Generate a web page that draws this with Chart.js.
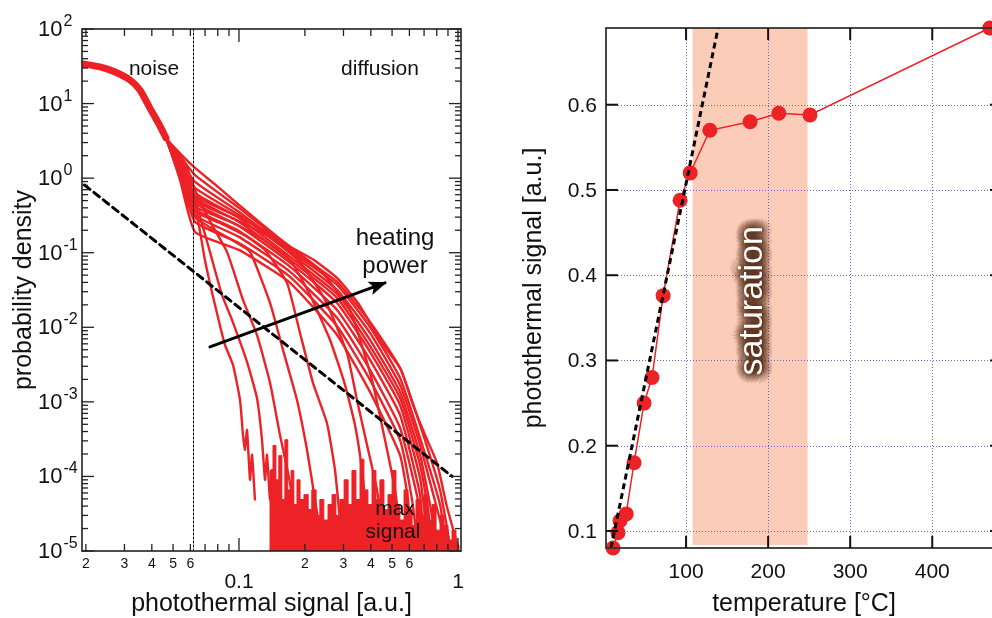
<!DOCTYPE html>
<html>
<head>
<meta charset="utf-8">
<script src="https://cdn.jsdelivr.net/npm/chart.js@4.4.1/dist/chart.umd.min.js"></script>
<style>
html, body { margin: 0; padding: 0; background: #fff; overflow: hidden; width: 992px; height: 618px; }
#left { position: absolute; left: 0; top: 0; }
#right { position: absolute; left: 496px; top: 0; }
</style>
</head>
<body>
<canvas id="left" width="496" height="618"></canvas>
<canvas id="right" width="520" height="618"></canvas>
<script>
var FONT = '"Liberation Sans", Arial, Helvetica, sans-serif';
var RED = '#ec2227';

// ---- left panel: probability density vs photothermal signal ----
var noiseHead = [[0.0194, 34], [0.0232, 31], [0.0272, 26.5], [0.0318, 20.7], [0.0353, 15.2], [0.0392, 8.7], [0.0436, 5.0], [0.0464, 3.46]];

var diff01 = [[0.0538, 2.15], [0.063, 1.37], [0.0802, 0.762], [0.1, 0.438], [0.1301, 0.229], [0.1692, 0.123], [0.22, 0.080], [0.2803, 0.0459], [0.3494, 0.0212], [0.4498, 6.2e-3], [0.5491, 2.7e-3], [0.6231, 9.1e-4], [0.7069, 3.6e-4], [0.8018, 1.52e-4], [0.8908, 3.9e-5], [1.0, 1.14e-5]];
var diff02 = [[0.0538, 1.95], [0.063, 1.10], [0.1, 0.399], [0.1692, 0.116], [0.2803, 0.0406], [0.3965, 0.0118], [0.5434, 2.86e-3], [0.6707, 4.9e-4], [0.8276, 6.6e-5], [0.9194, 1.2e-5]];
var diff03 = [[0.0538, 1.80], [0.063, 0.889], [0.1, 0.352], [0.1692, 0.109], [0.2803, 0.0370], [0.3965, 0.0101], [0.5434, 2.1e-3], [0.6707, 3.3e-4], [0.8276, 4.2e-5], [0.8815, 1.2e-5]];
var diff04 = [[0.0538, 1.65], [0.063, 0.739], [0.1, 0.321], [0.1692, 0.1026], [0.2803, 0.0317], [0.3965, 8.4e-3], [0.5434, 1.69e-3], [0.6707, 2.65e-4], [0.8276, 2.6e-5], [0.8908, 1.1e-5]];
var diff05 = [[0.0538, 1.55], [0.063, 0.634], [0.1, 0.293], [0.1692, 0.0906], [0.2803, 0.0280], [0.3965, 6.8e-3], [0.5434, 1.36e-3], [0.6707, 1.95e-4], [0.745, 4.2e-5], [0.8018, 1.2e-5]];
var diff06 = [[0.0538, 1.45], [0.063, 0.543], [0.1, 0.259], [0.1692, 0.0826], [0.2803, 0.0248], [0.3965, 5.6e-3], [0.5434, 1.13e-3], [0.6707, 1.43e-4], [0.7295, 3.6e-5], [0.769, 1.1e-5]];
var diff07 = [[0.0538, 1.35], [0.063, 0.466], [0.1, 0.229], [0.1692, 0.0753], [0.2803, 0.0212], [0.3965, 4.68e-3], [0.5434, 9.1e-4], [0.6707, 9.6e-5], [0.7069, 3.0e-5], [0.737, 1.1e-5]];
var diff08 = [[0.0538, 1.25], [0.063, 0.387], [0.1, 0.196], [0.1692, 0.0665], [0.2803, 0.0171], [0.3965, 3.66e-3], [0.5434, 6.7e-4], [0.6707, 5.7e-5], [0.70, 1.1e-5]];
var diff09 = [[0.0538, 1.15], [0.063, 0.321], [0.1, 0.163], [0.1692, 0.0570], [0.2803, 0.0134], [0.3965, 2.69e-3], [0.5434, 4.5e-4], [0.6707, 3.6e-5], [0.6922, 1.1e-5]];
var diff10 = [[0.0538, 1.05], [0.063, 0.259], [0.1, 0.135], [0.1692, 0.0489], [0.2803, 0.0104], [0.3965, 1.97e-3], [0.5434, 3.1e-4], [0.6166, 4.9e-5], [0.6568, 1.1e-5]];
var diff11 = [[0.0538, 0.95], [0.063, 0.190], [0.1, 0.109], [0.1692, 0.0406], [0.2803, 7.9e-3], [0.3965, 1.36e-3], [0.5434, 1.95e-4], [0.591, 4.9e-5], [0.6166, 1.1e-5]];

var steep1 = [[0.0538, 1.50], [0.063, 0.438], [0.0699, 0.080], [0.0777, 0.020], [0.0863, 5.8e-3], [0.0939, 3.13e-3], [0.1011, 1.06e-3], [0.1043, 3.6e-4], [0.1065, 2.28e-4], [0.1088, 4.2e-4], [0.1123, 9.0e-5], [0.1147, 1.95e-4], [0.1183, 4.9e-5]];
var steep2 = [[0.0549, 1.50], [0.063, 0.511], [0.0737, 0.1026], [0.0836, 0.0272], [0.0929, 0.0126], [0.1088, 3.44e-3], [0.1208, 1.13e-3], [0.1274, 3.1e-4], [0.1315, 9.0e-5], [0.1342, 1.95e-4], [0.1386, 4.9e-5], [0.1415, 1.22e-4], [0.146, 2.6e-5]];
var steep3 = [[0.0567, 1.60], [0.063, 0.695], [0.0753, 0.236], [0.0882, 0.1026], [0.1043, 0.0233], [0.1208, 7.9e-3], [0.1386, 1.80e-3], [0.1539, 3.6e-4], [0.171, 8.2e-5], [0.1802, 2.6e-5]];
var steep4 = [[0.0538, 1.0], [0.063, 0.30], [0.0777, 0.20], [0.0959, 0.14], [0.1123, 0.1026], [0.1386, 0.0212], [0.1588, 4.98e-3], [0.184, 1.06e-3], [0.2044, 2.28e-4], [0.2223, 4.9e-5], [0.234, 1.9e-5]];
var steep5 = [[0.0538, 1.1], [0.063, 0.36], [0.0819, 0.25], [0.1065, 0.17], [0.1315, 0.109], [0.1657, 0.0394], [0.1899, 8.4e-3], [0.2177, 1.80e-3], [0.2522, 5.2e-4], [0.2744, 1.22e-4], [0.2892, 2.6e-5]];
var steep6 = [[0.0538, 1.2], [0.063, 0.42], [0.091, 0.26], [0.1247, 0.16], [0.171, 0.080], [0.211, 0.0272], [0.2603, 6.8e-3], [0.3048, 1.69e-3], [0.3386, 4.9e-4], [0.3645, 1.22e-4], [0.3842, 2.6e-5]];
var steep7 = [[0.0538, 1.3], [0.063, 0.50], [0.0959, 0.28], [0.1386, 0.16], [0.1899, 0.0753], [0.247, 0.0233], [0.3113, 4.54e-3], [0.3458, 1.06e-3], [0.3842, 2.65e-4], [0.4267, 6.6e-5], [0.4498, 1.9e-5]];
var steep8 = [[0.0538, 1.4], [0.063, 0.58], [0.1, 0.30], [0.1539, 0.15], [0.234, 0.0588], [0.3213, 0.0171], [0.405, 1.97e-3], [0.464, 3.1e-4], [0.516, 6.6e-5], [0.5434, 1.9e-5]];

// noise floor of the histograms (single counts)
var floorX = [0.1386, 0.1386, 0.143, 0.1475, 0.152, 0.157, 0.162, 0.167, 0.173, 0.178, 0.184, 0.190, 0.198, 0.207, 0.215, 0.225, 0.234, 0.244, 0.255, 0.266, 0.277, 0.289, 0.302, 0.315, 0.328, 0.342, 0.357, 0.372, 0.388, 0.405, 0.422, 0.440, 0.459, 0.479, 0.500, 0.521, 0.543, 0.567, 0.591, 0.617, 0.643, 0.671, 0.700, 0.730, 0.761, 0.794, 0.828, 0.863, 0.900, 0.939, 0.979, 1.01];
var floorY = [1e-5, 1.2e-4, 2.6e-4, 9e-5, 1.9e-4, 4.9e-5, 3.1e-4, 6.6e-5, 1.2e-4, 4.2e-5, 9e-5, 4.9e-5, 5.7e-5, 3.6e-5, 6.6e-5, 3.0e-5, 4.9e-5, 2.6e-5, 4.2e-5, 5.7e-5, 3.0e-5, 4.9e-5, 9e-5, 4.2e-5, 1.2e-4, 4.9e-5, 1.7e-4, 6.6e-5, 4.2e-5, 1.2e-4, 4.9e-5, 9e-5, 3.6e-5, 5.7e-5, 1.2e-4, 4.2e-5, 2.6e-5, 6.6e-5, 3.6e-5, 2.2e-5, 4.9e-5, 3.0e-5, 5.7e-5, 2.6e-5, 4.2e-5, 1.9e-5, 3.0e-5, 2.2e-5, 1.4e-5, 1.9e-5, 1.2e-5, 1.0e-5];

var noiseLimit = 0.062;
var powerLawX = [0.0197, 0.94];
var powerLawY = [0.81, 1e-4];
var arrowX = [0.0737, 0.464];
var arrowY = [5.46e-3, 0.0394];

var yDecades = [1e-5, 1e-4, 1e-3, 1e-2, 1e-1, 1, 10, 100];
var yExponents = ['-5', '-4', '-3', '-2', '-1', '0', '1', '2'];
var yMinorSteps = [2, 3, 4, 5, 6, 7, 8, 9];
var xMinorTicks = [0.02, 0.03, 0.04, 0.05, 0.06, 0.07, 0.08, 0.09, 0.2, 0.3, 0.4, 0.5, 0.6, 0.7, 0.8, 0.9];
var xMinorLabels = ['2', '3', '4', '5', '6', '', '', '', '2', '3', '4', '5', '6', '', '', ''];
var xMajorTicks = [0.1, 1];
var xMajorLabels = ['0.1', '1'];

// ---- right panel: photothermal signal vs temperature ----
var tempC = [11, 17, 19.5, 27, 36.6, 48.8, 58.5, 72, 92.7, 105, 129, 178, 213, 251, 470];
var ptSignal = [0.08, 0.098, 0.112, 0.12, 0.18, 0.25, 0.28, 0.376, 0.488, 0.52, 0.57, 0.58, 0.59, 0.588, 0.69];
var fitX = [8.5, 139];
var fitY = [0.08, 0.69];
var saturationRange = [108, 248];
var saturationBottom = 0.0835;
var tempTicks = [100, 200, 300, 400];
var signalTicks = [0.1, 0.2, 0.3, 0.4, 0.5, 0.6];

function toPoints(xs, ys) {
    var out = [];
    for (var i = 0; i < xs.length; i++) out.push({x: xs[i], y: ys[i]});
    return out;
}
function pairPoints(arr) {
    return arr.map(function (p) { return {x: p[0], y: p[1]}; });
}
function seg(ctx, x0, y0, x1, y1) {
    ctx.beginPath(); ctx.moveTo(x0, y0); ctx.lineTo(x1, y1); ctx.stroke();
}

var leftAxes = {
    id: 'leftAxes',
    afterDatasetsDraw: function (chart) {
        var ctx = chart.ctx, x = chart.scales.x, y = chart.scales.y;
        var x0 = x.getPixelForValue(arrowX[0]), y0 = y.getPixelForValue(arrowY[0]);
        var x1 = x.getPixelForValue(arrowX[1]), y1 = y.getPixelForValue(arrowY[1]);
        var ang = Math.atan2(y1 - y0, x1 - x0);
        ctx.save();
        ctx.translate(x1, y1);
        ctx.rotate(ang);
        ctx.fillStyle = '#000';
        ctx.beginPath();
        ctx.moveTo(2, 0); ctx.lineTo(-16, -7); ctx.lineTo(-12, 0); ctx.lineTo(-16, 7);
        ctx.closePath(); ctx.fill();
        ctx.restore();
    },
    afterDraw: function (chart) {
        var ctx = chart.ctx, a = chart.chartArea, x = chart.scales.x, y = chart.scales.y;
        ctx.save();
        ctx.strokeStyle = '#222';
        ctx.lineWidth = 1.6;
        ctx.strokeRect(a.left, a.top, a.right - a.left, a.bottom - a.top);
        ctx.lineWidth = 1.3;
        yDecades.forEach(function (d) {
            var py = y.getPixelForValue(d);
            seg(ctx, a.left, py, a.left + 12, py);
            seg(ctx, a.right, py, a.right - 12, py);
            if (d >= 100) return;
            yMinorSteps.forEach(function (m) {
                var pm = y.getPixelForValue(d * m);
                seg(ctx, a.left, pm, a.left + 6, pm);
                seg(ctx, a.right, pm, a.right - 6, pm);
            });
        });
        xMinorTicks.forEach(function (v) {
            var px = x.getPixelForValue(v);
            seg(ctx, px, a.bottom, px, a.bottom - 7);
            seg(ctx, px, a.top, px, a.top + 7);
        });
        xMajorTicks.forEach(function (v) {
            var px = x.getPixelForValue(v);
            seg(ctx, px, a.bottom, px, a.bottom - 13);
            seg(ctx, px, a.top, px, a.top + 13);
        });

        ctx.fillStyle = '#111';
        // y tick labels 10^n
        yDecades.forEach(function (d, i) {
            var py = y.getPixelForValue(d);
            ctx.font = '22px ' + FONT;
            ctx.textAlign = 'left';
            ctx.textBaseline = 'alphabetic';
            ctx.fillText('10', 38, py + 7);
            var w = ctx.measureText('10').width;
            ctx.font = '16px ' + FONT;
            ctx.fillText(yExponents[i], 38 + w + 1, py - 3);
        });
        // x tick labels
        ctx.textAlign = 'center';
        ctx.font = '14px ' + FONT;
        xMinorTicks.forEach(function (v, i) {
            if (xMinorLabels[i]) ctx.fillText(xMinorLabels[i], x.getPixelForValue(v), a.bottom + 17);
        });
        ctx.font = '21px ' + FONT;
        xMajorTicks.forEach(function (v, i) {
            ctx.fillText(xMajorLabels[i], x.getPixelForValue(v), a.bottom + 37);
        });
        // titles
        ctx.font = '25px ' + FONT;
        ctx.fillText('photothermal signal [a.u.]', (a.left + a.right) / 2, 611);
        ctx.save();
        ctx.translate(31, (a.top + a.bottom) / 2);
        ctx.rotate(-Math.PI / 2);
        ctx.fillText('probability density', 0, 0);
        ctx.restore();
        // annotations
        ctx.font = '21px ' + FONT;
        ctx.fillText('noise', 154, 75);
        ctx.fillText('diffusion', 380, 75);
        ctx.font = '24px ' + FONT;
        ctx.fillText('heating', 395, 245);
        ctx.fillText('power', 395, 273);
        ctx.font = '21px ' + FONT;
        ctx.fillText('max', 395, 515);
        ctx.fillText('signal', 393, 538);
        ctx.restore();
    }
};

var leftSets = [];
leftSets.push({data: toPoints(powerLawX, powerLawY), borderColor: '#000', borderWidth: 3, borderDash: [7, 5], order: 0});
leftSets.push({data: toPoints(arrowX, arrowY), borderColor: '#000', borderWidth: 3, order: 0});
leftSets.push({data: [{x: noiseLimit, y: 1e-5}, {x: noiseLimit, y: 100}], borderColor: '#000', borderWidth: 1, borderDash: [2, 2], order: 1});
[diff01, diff02, diff03, diff04, diff05, diff06, diff07, diff08, diff09, diff10, diff11,
 steep1, steep2, steep3, steep4, steep5, steep6, steep7, steep8].forEach(function (c) {
    leftSets.push({data: pairPoints(noiseHead.concat(c)), borderColor: RED, borderWidth: 2.4,
        tension: 0.15, order: 2});
});
leftSets.push({data: pairPoints(noiseHead), borderColor: RED, borderWidth: 7, tension: 0.2, order: 2});
leftSets.push({data: toPoints(floorX, floorY), borderColor: RED, backgroundColor: RED, borderWidth: 1, stepped: true, fill: 'start', order: 3});

new Chart(document.getElementById('left'), {
    type: 'line',
    data: {datasets: leftSets},
    options: {
        responsive: false,
        animation: false,
        layout: {padding: {left: 82, right: 35, top: 29, bottom: 67}},
        elements: {point: {radius: 0}, line: {tension: 0, borderCapStyle: 'round', borderJoinStyle: 'round'}},
        plugins: {legend: {display: false}, tooltip: {enabled: false}},
        scales: {
            x: {type: 'logarithmic', min: 0.0192, max: 1.032, display: false},
            y: {type: 'logarithmic', min: 1e-5, max: 100, display: false}
        }
    },
    plugins: [leftAxes]
});

var rightAxes = {
    id: 'rightAxes',
    beforeDatasetsDraw: function (chart) {
        var ctx = chart.ctx, a = chart.chartArea, x = chart.scales.x, y = chart.scales.y;
        ctx.save();
        var bx0 = x.getPixelForValue(saturationRange[0]);
        var bx1 = x.getPixelForValue(saturationRange[1]);
        var by = y.getPixelForValue(saturationBottom);
        ctx.fillStyle = '#fbcdb8';
        ctx.fillRect(bx0, a.top, bx1 - bx0, by - a.top);
        ctx.strokeStyle = '#6565cc';
        ctx.lineWidth = 1;
        ctx.setLineDash([1, 2]);
        tempTicks.forEach(function (v) {
            var px = Math.round(x.getPixelForValue(v)) + 0.5;
            seg(ctx, px, a.top, px, a.bottom);
        });
        signalTicks.forEach(function (v) {
            var py = Math.round(y.getPixelForValue(v)) + 0.5;
            seg(ctx, a.left, py, a.right, py);
        });
        ctx.setLineDash([]);
        // label with a soft dark halo
        ctx.save();
        ctx.translate(x.getPixelForValue(181), y.getPixelForValue(0.37));
        ctx.rotate(-Math.PI / 2);
        ctx.font = '34px ' + FONT;
        ctx.textAlign = 'center';
        ctx.textBaseline = 'middle';
        ctx.fillStyle = 'rgba(95,55,45,0.05)';
        for (var r = 1; r <= 10; r++) {
            for (var k = 0; k < 16; k++) {
                var t = k * Math.PI / 8;
                ctx.fillText('saturation', r * Math.cos(t), r * Math.sin(t) + 1);
            }
        }
        ctx.fillStyle = '#fff';
        ctx.fillText('saturation', 0, 0);
        ctx.restore();
        ctx.restore();
    },
    afterDraw: function (chart) {
        var ctx = chart.ctx, a = chart.chartArea, x = chart.scales.x, y = chart.scales.y;
        ctx.save();
        ctx.strokeStyle = '#333';
        ctx.lineWidth = 1.8;
        ctx.strokeRect(a.left, a.top, a.right - a.left, a.bottom - a.top);
        ctx.strokeStyle = '#111';
        ctx.lineWidth = 2;
        tempTicks.forEach(function (v) {
            var px = x.getPixelForValue(v);
            seg(ctx, px, a.bottom, px, a.bottom - 12);
            seg(ctx, px, a.top, px, a.top + 12);
        });
        signalTicks.forEach(function (v) {
            var py = y.getPixelForValue(v);
            seg(ctx, a.left, py, a.left + 12, py);
            seg(ctx, a.right, py, a.right - 12, py);
        });
        ctx.fillStyle = '#111';
        ctx.font = '21px ' + FONT;
        ctx.textAlign = 'center';
        ctx.textBaseline = 'alphabetic';
        tempTicks.forEach(function (v) {
            ctx.fillText(String(v), x.getPixelForValue(v), a.bottom + 30);
        });
        ctx.textAlign = 'right';
        ctx.textBaseline = 'middle';
        signalTicks.forEach(function (v) {
            ctx.fillText(v.toFixed(1), a.left - 9, y.getPixelForValue(v) + 1);
        });
        ctx.textAlign = 'center';
        ctx.textBaseline = 'alphabetic';
        ctx.font = '25px ' + FONT;
        ctx.fillText('temperature [°C]', (a.left + a.right) / 2, 611);
        ctx.save();
        ctx.translate(45, (a.top + a.bottom) / 2);
        ctx.rotate(-Math.PI / 2);
        ctx.fillText('photothermal signal [a.u.]', 0, 0);
        ctx.restore();
        ctx.restore();
    }
};

new Chart(document.getElementById('right'), {
    type: 'line',
    data: {
        datasets: [
            {data: toPoints(fitX, fitY), borderColor: '#000', borderWidth: 3, borderDash: [6, 4], pointRadius: 0, order: 0},
            {data: toPoints(tempC, ptSignal), borderColor: RED, borderWidth: 1.5, pointRadius: 7.5,
             pointBackgroundColor: RED, pointBorderColor: RED, pointBorderWidth: 0, clip: false, order: 1}
        ]
    },
    options: {
        responsive: false,
        animation: false,
        layout: {padding: {left: 110, right: 14, top: 28, bottom: 70}},
        elements: {line: {tension: 0}},
        plugins: {legend: {display: false}, tooltip: {enabled: false}},
        scales: {
            x: {type: 'linear', min: 2.4, max: 485, display: false},
            y: {type: 'linear', min: 0.08, max: 0.69, display: false}
        }
    },
    plugins: [rightAxes]
});
</script>
</body>
</html>
